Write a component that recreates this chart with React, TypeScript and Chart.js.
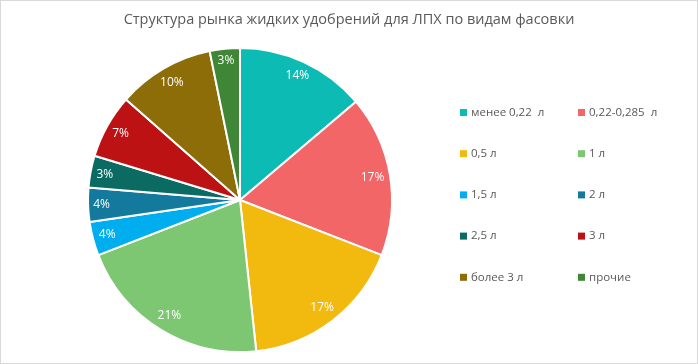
import React, { useEffect, useRef } from "react";
import { Chart, registerables } from "chart.js";

Chart.register(...registerables);

const TITLE = "Структура рынка жидких удобрений для ЛПХ по видам фасовки";
const categories = [
  "менее 0,22  л",
  "0,22-0,285  л",
  "0,5 л",
  "1 л",
  "1,5 л",
  "2 л",
  "2,5 л",
  "3 л",
  "более 3 л",
  "прочие",
];
const values = [13.8, 17.1, 17.4, 20.8, 3.6, 3.6, 3.4, 6.8, 10.3, 3.2];
const colors = [
  "#0CBBB4",
  "#F26668",
  "#F2B90F",
  "#7DC672",
  "#00AEEF",
  "#137A9E",
  "#0B6B63",
  "#BD1214",
  "#8C6D07",
  "#3F8636",
];

const FONT = "'Open Sans', 'Noto Sans', sans-serif";

const labelsPlugin = {
  id: "customLabels",
  afterDatasetsDraw(chart: any) {
    const ctx = chart.ctx;
    const meta = chart.getDatasetMeta(0);
    const data = chart.data.datasets[0].data as number[];
    const total = data.reduce((a, b) => a + b, 0);
    ctx.save();
    ctx.font = `12px ${FONT}`;
    ctx.fillStyle = "#ffffff";
    ctx.textAlign = "center";
    ctx.textBaseline = "middle";
    meta.data.forEach((arc: any, i: number) => {
      const { x, y, startAngle, endAngle, outerRadius } = arc.getProps(
        ["x", "y", "startAngle", "endAngle", "outerRadius"],
        true
      );
      const mid = (startAngle + endAngle) / 2;
      const txt = Math.round((data[i] / total) * 100) + "%";
      const w = ctx.measureText(txt).width;
      const h = 12;
      const c = Math.cos(mid);
      const s = Math.sin(mid);
      const ext = Math.abs(c) * (w / 2) + Math.abs(s) * (h / 2);
      const r = outerRadius - 5 - ext;
      ctx.fillText(txt, x + c * r, y + s * r);
    });
    ctx.restore();
  },
  afterDraw(chart: any) {
    const ctx = chart.ctx;
    ctx.save();
    // border
    ctx.strokeStyle = "#d9d9d9";
    ctx.lineWidth = 1;
    ctx.strokeRect(0.5, 0.5, chart.width - 1, chart.height - 1);
    // title
    ctx.font = `14.5px ${FONT}`;
    ctx.fillStyle = "#595959";
    ctx.textAlign = "center";
    ctx.textBaseline = "middle";
    ctx.fillText(TITLE, chart.width / 2, 20);
    // legend
    ctx.font = `11.5px ${FONT}`;
    ctx.textAlign = "left";
    categories.forEach((cat, i) => {
      const col = i % 2;
      const row = Math.floor(i / 2);
      const mx = col === 0 ? 460 : 578;
      const my = 112.5 + row * 41.2;
      ctx.fillStyle = colors[i];
      ctx.fillRect(mx, my - 3.5, 7, 7);
      ctx.fillStyle = "#595959";
      ctx.fillText(cat, mx + 11, my);
    });
    ctx.restore();
  },
};

export default function App() {
  const ref = useRef<HTMLCanvasElement>(null);
  useEffect(() => {
    document.body.style.margin = "0";
    const chart = new Chart(ref.current!, {
      type: "pie",
      data: {
        labels: categories,
        datasets: [
          {
            data: values,
            backgroundColor: colors,
            borderColor: "#ffffff",
            borderWidth: 2,
          },
        ],
      },
      options: {
        animation: false,
        responsive: false,
        rotation: 0,
        layout: { padding: { left: 87, right: 305, top: 47, bottom: 11 } },
        plugins: {
          legend: { display: false },
          title: { display: false },
          tooltip: { enabled: false },
        },
      },
      plugins: [labelsPlugin],
    });
    return () => chart.destroy();
  }, []);
  return (
    <div style={{ width: 698, height: 364 }}>
      <canvas ref={ref} width={698} height={364} style={{ display: "block" }} />
    </div>
  );
}
